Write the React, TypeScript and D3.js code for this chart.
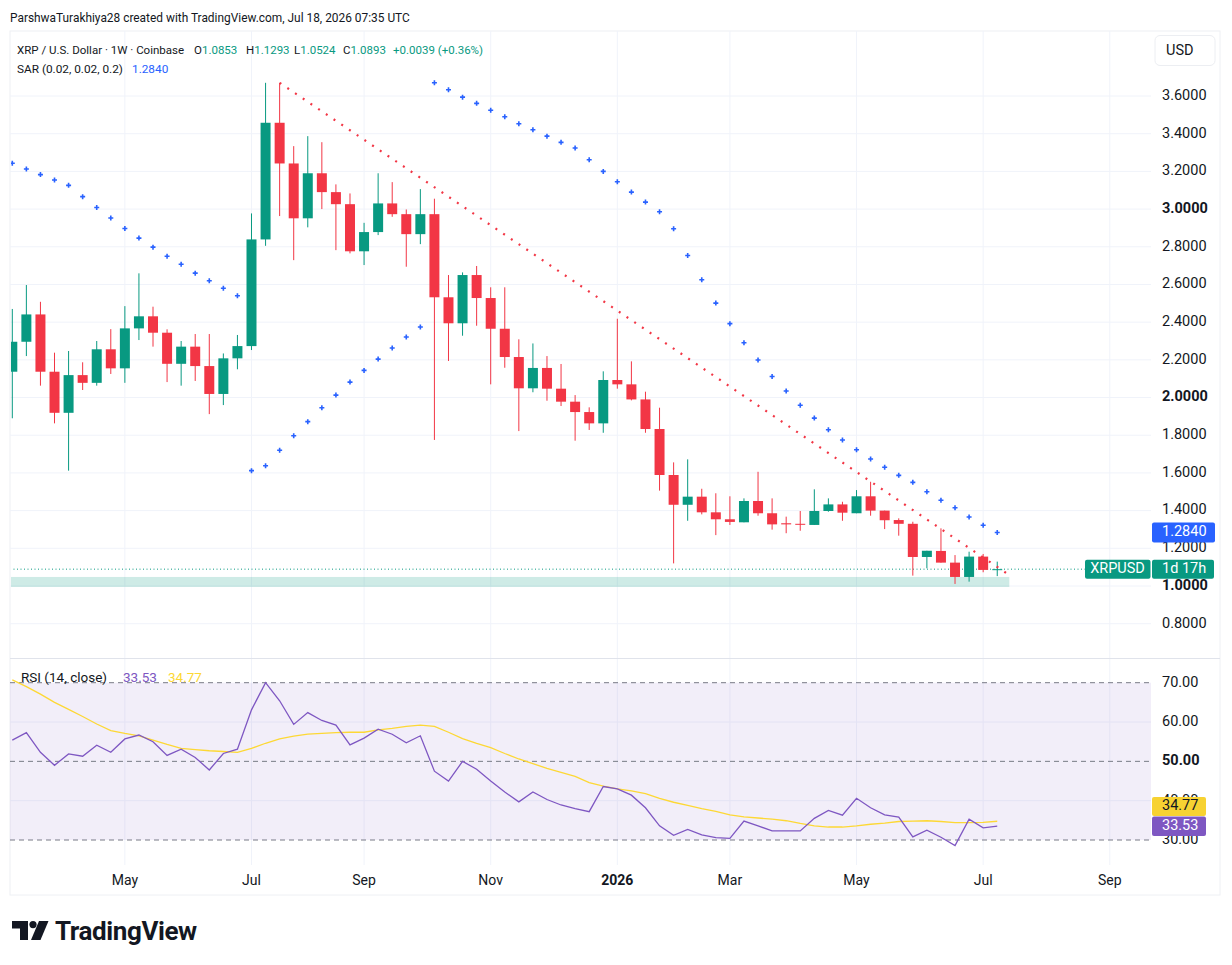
import * as d3 from "d3";

// weekly XRP/USD candles, Mar 10 2025 .. Jul 13 2026
const opens = [
  2.137, 2.296, 2.441, 2.137, 1.919, 2.119, 2.078, 2.256, 2.155, 2.367,
  2.431, 2.344, 2.179, 2.27, 2.167, 2.019, 2.208, 2.273, 2.839, 3.458,
  3.242, 2.951, 3.19, 3.09, 3.026, 2.776, 2.878, 3.03, 2.973, 2.867,
  2.973, 2.532, 2.394, 2.65, 2.528, 2.365, 2.215, 2.049, 2.157, 2.047,
  1.978, 1.923, 1.863, 2.093, 2.07, 1.99, 1.833, 1.589, 1.431, 1.474,
  1.391, 1.354, 1.338, 1.451, 1.386, 1.333, 1.33, 1.324, 1.398, 1.433,
  1.386, 1.476, 1.4, 1.35, 1.33, 1.154, 1.186, 1.124, 1.048, 1.156,
  1.0853,
];
const highs = [
  2.47, 2.597, 2.508, 2.238, 2.247, 2.187, 2.3, 2.363, 2.485, 2.659,
  2.482, 2.362, 2.3, 2.337, 2.337, 2.234, 2.332, 2.977, 3.67, 3.67,
  3.334, 3.387, 3.355, 3.131, 3.083, 2.927, 3.19, 3.143, 2.998, 3.106,
  3.055, 2.65, 2.664, 2.698, 2.585, 2.585, 2.309, 2.287, 2.22, 2.178,
  2.013, 1.948, 2.139, 2.418, 2.192, 2.031, 1.946, 1.656, 1.672, 1.516,
  1.492, 1.476, 1.465, 1.606, 1.465, 1.368, 1.398, 1.513, 1.465, 1.447,
  1.509, 1.553, 1.4, 1.359, 1.341, 1.187, 1.306, 1.164, 1.182, 1.17,
  1.1293,
];
const lows = [
  1.89, 2.22, 2.063, 1.863, 1.612, 2.04, 2.063, 2.125, 2.078, 2.305,
  2.27, 2.082, 2.063, 2.088, 1.912, 1.96, 2.15, 2.252, 2.805, 2.963,
  2.729, 2.903, 3.0, 2.782, 2.765, 2.703, 2.862, 2.959, 2.694, 2.814,
  1.775, 2.194, 2.328, 2.381, 2.07, 2.158, 1.822, 2.028, 1.983, 1.955,
  1.771, 1.828, 1.813, 2.047, 1.985, 1.813, 1.506, 1.12, 1.346, 1.38,
  1.27, 1.324, 1.338, 1.373, 1.299, 1.28, 1.293, 1.324, 1.394, 1.346,
  1.386, 1.373, 1.302, 1.267, 1.055, 1.094, 1.124, 1.011, 1.023, 1.073,
  1.0524,
];
const closes = [
  2.296, 2.441, 2.137, 1.919, 2.119, 2.078, 2.256, 2.155, 2.367, 2.431,
  2.344, 2.179, 2.27, 2.167, 2.019, 2.208, 2.273, 2.839, 3.458, 3.242,
  2.951, 3.19, 3.09, 3.026, 2.776, 2.878, 3.03, 2.973, 2.867, 2.973,
  2.532, 2.394, 2.65, 2.528, 2.365, 2.215, 2.049, 2.157, 2.047, 1.978,
  1.923, 1.863, 2.093, 2.07, 1.99, 1.833, 1.589, 1.431, 1.474, 1.391,
  1.354, 1.34, 1.451, 1.386, 1.327, 1.327, 1.327, 1.398, 1.433, 1.389,
  1.476, 1.4, 1.349, 1.33, 1.154, 1.187, 1.124, 1.048, 1.156, 1.0853,
  1.0893,
];
const sarValues = [
  3.243, 3.213, 3.183, 3.154, 3.126, 3.066, 3.008, 2.953, 2.897, 2.846,
  2.798, 2.75, 2.707, 2.66, 2.62, 2.58, 2.54, 1.612, 1.638, 1.72,
  1.797, 1.872, 1.946, 2.013, 2.082, 2.144, 2.204, 2.263, 2.321, 2.374,
  3.67, 3.633, 3.594, 3.561, 3.524, 3.49, 3.453, 3.421, 3.387, 3.354,
  3.324, 3.262, 3.2, 3.145, 3.09, 3.037, 2.986, 2.896, 2.754, 2.625,
  2.501, 2.392, 2.291, 2.199, 2.112, 2.035, 1.959, 1.891, 1.829, 1.775,
  1.723, 1.674, 1.63, 1.587, 1.55, 1.5, 1.455, 1.415, 1.366, 1.322,
  1.284,
];
const rsiValues = [
  55.4, 57.3, 52.3, 49.0, 51.9, 51.3, 54.1, 52.3, 55.7, 56.7,
  55.0, 51.5, 53.1, 51.0, 47.8, 52.0, 53.1, 63.1, 70.0, 65.4,
  59.4, 62.4, 60.4, 59.2, 54.2, 55.9, 58.2, 56.9, 54.7, 56.5,
  47.5, 45.0, 50.0, 48.0, 45.0, 42.2, 39.7, 42.2, 40.3, 38.9,
  38.0, 37.2, 43.6, 43.0, 41.4, 38.2, 33.6, 31.2, 32.7, 31.3,
  30.6, 30.4, 34.8, 33.6, 32.3, 32.3, 32.3, 35.5, 37.5, 36.3,
  40.6, 38.2, 36.4, 35.8, 30.8, 32.5, 30.7, 28.6, 35.3, 33.1,
  33.53,
];
const rsiMaValues = [
  70.7, 69.0, 67.1, 65.0, 63.2, 61.4, 59.5, 57.8, 57.1, 56.5,
  55.4, 54.3, 53.3, 53.0, 52.7, 52.5, 52.3, 53.3, 54.6, 55.7,
  56.4, 56.9, 57.1, 57.3, 57.4, 57.4, 58.0, 58.4, 58.9, 59.2,
  58.9, 57.4, 55.8, 54.6, 53.5, 52.0, 50.6, 49.4, 48.2, 47.2,
  46.2, 44.6, 43.7, 43.0, 42.5, 41.8, 40.6, 39.6, 38.8, 38.0,
  37.3, 36.4, 35.9, 35.6, 35.3, 34.9, 34.2, 33.6, 33.3, 33.3,
  33.6, 34.0, 34.3, 34.7, 34.8, 34.9, 34.7, 34.4, 34.4, 34.5,
  34.77,
];

const priceTicks = [0.8, 1.0, 1.2, 1.4, 1.6, 1.8, 2.0, 2.2, 2.4, 2.6, 2.8, 3.0, 3.2, 3.4, 3.6];
const boldPrices = [1.0, 2.0, 3.0];
const rsiTicks = [30, 40, 50, 60, 70];
const rsiBands = [70, 50, 30];
const monthTickDates = [
  "2025-05-05", "2025-07-07", "2025-09-01", "2025-11-03", "2026-01-05",
  "2026-03-02", "2026-05-04", "2026-07-06", "2026-09-07",
];
const monthTickLabels = ["May", "Jul", "Sep", "Nov", "2026", "Mar", "May", "Jul", "Sep"];

// user drawings
const trendDates = ["2025-07-21", "2026-07-19"];
const trendPrices = [3.67, 1.058];
const zoneDates = ["2025-01-01", "2026-07-19"];
const zonePrices = [0.995, 1.048];

const UP = "#089981";
const DOWN = "#f23645";
const TEXT = "#131722";
const GRID = "#f0f3fa";
const FONT = "Roboto, 'Noto Sans', sans-serif";
const AXIS_FS = 14.5;

const W = 1232;
const H = 965;
const left = 10;
const right = 1220;
const plotRight = 1151;
const mainTop = 31;
const mainBottom = 658;
const rsiTop = 659;
const rsiBottom = 865;
const bottom = 895;
const axisX = 1162;

const weeks = d3.utcMonday.range(new Date(Date.UTC(2025, 2, 10)), new Date(Date.UTC(2026, 6, 14)));
const parse = (s: string) => new Date(s + "T00:00:00Z");

export default function App() {
  const x = d3
    .scaleUtc()
    .domain([weeks[0], parse("2026-09-07")])
    .range([12.3, 1109.8]);
  const y = d3.scaleLinear().domain([1, 3.6]).range([586, 96]);
  const yr = d3.scaleLinear().domain([30, 70]).range([840, 682.7]);

  const step = x(weeks[1]) - x(weeks[0]);
  const bw = step * 0.71;

  const rsiLine = d3
    .line<number>()
    .x((_, i) => x(weeks[i]))
    .y((v) => yr(v));

  const last = closes.length - 1;
  const lastPrice = closes[last];

  return (
    <svg
      width={W}
      height={H}
      style={{ position: "absolute", left: 0, top: 0, background: "#fff", fontFamily: FONT }}
    >
      <defs>
        <clipPath id="mainClip">
          <rect x={left + 1} y={mainTop} width={plotRight - left - 1} height={mainBottom - mainTop} />
        </clipPath>
        <clipPath id="rsiClip">
          <rect x={left + 1} y={rsiTop} width={plotRight - left - 1} height={rsiBottom - rsiTop} />
        </clipPath>
      </defs>

      <text x={10} y={22} fontSize={11.9} fill={TEXT}>
        ParshwaTurakhiya28 created with TradingView.com, Jul 18, 2026 07:35 UTC
      </text>

      {/* chart frame */}
      <rect x={left} y={mainTop} width={right - left} height={bottom - mainTop} fill="none" stroke="#eef0f4" />

      {/* grid */}
      {priceTicks.map((p) => (
        <line key={"hg" + p} x1={left} x2={plotRight} y1={y(p)} y2={y(p)} stroke={GRID} />
      ))}
      {monthTickDates.map((d) => (
        <line key={"vg" + d} x1={x(parse(d))} x2={x(parse(d))} y1={mainTop} y2={rsiBottom} stroke={GRID} />
      ))}
      {[40, 60].map((v) => (
        <line key={"rg" + v} x1={left} x2={plotRight} y1={yr(v)} y2={yr(v)} stroke={GRID} />
      ))}
      <line x1={left} x2={right} y1={mainBottom + 0.5} y2={mainBottom + 0.5} stroke="#e0e3eb" />

      {/* main pane */}
      <g clipPath="url(#mainClip)">
        <rect
          x={x(parse(zoneDates[0]))}
          y={y(zonePrices[1])}
          width={x(parse(zoneDates[1])) - x(parse(zoneDates[0]))}
          height={y(zonePrices[0]) - y(zonePrices[1])}
          fill={UP}
          fillOpacity={0.2}
        />
        <line
          x1={left}
          x2={plotRight}
          y1={y(lastPrice)}
          y2={y(lastPrice)}
          stroke={UP}
          strokeWidth={1}
          strokeDasharray="1 2.5"
        />
        {weeks.map((d, i) => {
          const o = opens[i];
          const c = closes[i];
          const col = c >= o ? UP : DOWN;
          const cx = x(d);
          const top = y(Math.max(o, c));
          const h = Math.max(1, Math.abs(y(o) - y(c)));
          return (
            <g key={"c" + i}>
              <line x1={cx} x2={cx} y1={y(highs[i])} y2={y(lows[i])} stroke={col} strokeWidth={1} />
              <rect x={cx - bw / 2} y={top} width={bw} height={h} fill={col} />
            </g>
          );
        })}
        <line
          x1={x(parse(trendDates[0]))}
          y1={y(trendPrices[0])}
          x2={x(parse(trendDates[1]))}
          y2={y(trendPrices[1])}
          stroke={DOWN}
          strokeWidth={2.2}
          strokeDasharray="2 7.3"
        />
        {weeks.map((d, i) => {
          const cx = x(d);
          const cy = y(sarValues[i]);
          return (
            <path
              key={"s" + i}
              d={`M${cx - 2.5},${cy}H${cx + 2.5}M${cx},${cy - 2.5}V${cy + 2.5}`}
              stroke="#2962ff"
              strokeWidth={1.6}
            />
          );
        })}
      </g>

      {/* legend */}
      <text y={54} fontSize={11.5} fill={TEXT}>
        <tspan x={17}>XRP / U.S. Dollar · 1W · Coinbase</tspan>
        <tspan x={194}>O</tspan>
        <tspan fill={UP}>{opens[last].toFixed(4)}</tspan>
        <tspan x={246}>H</tspan>
        <tspan fill={UP}>{highs[last].toFixed(4)}</tspan>
        <tspan x={294}>L</tspan>
        <tspan fill={UP}>{lows[last].toFixed(4)}</tspan>
        <tspan x={343}>C</tspan>
        <tspan fill={UP}>{lastPrice.toFixed(4)}</tspan>
        <tspan x={393} fill={UP}>
          +0.0039 (+0.36%)
        </tspan>
      </text>
      <text y={73} fontSize={11.8} fill={TEXT}>
        <tspan x={17}>SAR (0.02, 0.02, 0.2)</tspan>
        <tspan x={132} fill="#2962ff">
          {sarValues[last].toFixed(4)}
        </tspan>
      </text>

      {/* price axis */}
      <rect x={1155} y={35.5} width={60} height={30} rx={5} fill="#fff" stroke="#eceef2" />
      <text x={1166} y={51} fontSize={AXIS_FS} fill={TEXT} dominantBaseline="middle">
        USD
      </text>
      {priceTicks.map((p) => (
        <text
          key={"pl" + p}
          x={axisX}
          y={y(p)}
          fontSize={AXIS_FS}
          fill={TEXT}
          fontWeight={boldPrices.includes(p) ? 700 : 400}
          dominantBaseline="middle"
        >
          {p.toFixed(4)}
        </text>
      ))}
      <rect x={1152} y={y(sarValues[last]) - 10} width={63} height={20} rx={2} fill="#2962ff" />
      <text x={axisX} y={y(sarValues[last])} fontSize={AXIS_FS} fill="#fff" dominantBaseline="middle">
        {sarValues[last].toFixed(4)}
      </text>
      <rect x={1085} y={y(lastPrice) - 9.5} width={65.5} height={19} rx={2} fill={UP} />
      <text x={1117.5} y={y(lastPrice)} fontSize={AXIS_FS} fill="#fff" textAnchor="middle" dominantBaseline="middle">
        XRPUSD
      </text>
      <rect x={1152} y={y(lastPrice) - 9.5} width={62} height={19} rx={2} fill={UP} />
      <text x={axisX} y={y(lastPrice)} fontSize={AXIS_FS} fill="#fff" dominantBaseline="middle">
        1d 17h
      </text>

      {/* RSI pane */}
      <rect
        x={left}
        y={yr(70)}
        width={plotRight - left}
        height={yr(30) - yr(70)}
        fill="#7e57c2"
        fillOpacity={0.1}
      />
      {rsiBands.map((v) => (
        <line
          key={"rb" + v}
          x1={left}
          x2={plotRight}
          y1={yr(v)}
          y2={yr(v)}
          stroke="#787b86"
          strokeWidth={1}
          strokeDasharray="5 4"
        />
      ))}
      <g clipPath="url(#rsiClip)" fill="none">
        <path d={rsiLine(rsiMaValues) ?? ""} stroke="#fdd835" strokeWidth={1.3} />
        <path d={rsiLine(rsiValues) ?? ""} stroke="#7e57c2" strokeWidth={1.3} />
      </g>
      <text y={682} fontSize={13.5}>
        <tspan x={21} fill={TEXT}>
          RSI (14, close)
        </tspan>
        <tspan x={123} fill="#7e57c2">
          {rsiValues[last].toFixed(2)}
        </tspan>
        <tspan x={168} fill="#fdd835">
          {rsiMaValues[last].toFixed(2)}
        </tspan>
      </text>
      {rsiTicks.map((v) => (
        <text
          key={"rl" + v}
          x={axisX}
          y={yr(v)}
          fontSize={AXIS_FS}
          fill={TEXT}
          fontWeight={v === 50 ? 700 : 400}
          dominantBaseline="middle"
        >
          {v.toFixed(2)}
        </text>
      ))}
      <rect x={1152} y={797} width={54} height={19} rx={2} fill="#f7d232" />
      <text x={axisX} y={806.5} fontSize={AXIS_FS} fill={TEXT} dominantBaseline="middle">
        {rsiMaValues[last].toFixed(2)}
      </text>
      <rect x={1152} y={816.5} width={54} height={19.5} rx={2} fill="#7e57c2" />
      <text x={axisX} y={826.5} fontSize={AXIS_FS} fill="#fff" dominantBaseline="middle">
        {rsiValues[last].toFixed(2)}
      </text>

      {/* time axis */}
      {monthTickDates.map((d, i) => (
        <text
          key={"tl" + d}
          x={x(parse(d))}
          y={881}
          fontSize={14}
          fill={TEXT}
          textAnchor="middle"
          dominantBaseline="middle"
          fontWeight={monthTickLabels[i] === "2026" ? 700 : 400}
        >
          {monthTickLabels[i]}
        </text>
      ))}

      {/* TradingView logo */}
      <g fill="#131722">
        <path d="M12,921 H28 V940 H20 V928.5 H12 Z" />
        <circle cx={33} cy={924.6} r={3.6} />
        <path d="M39,921 H48.5 L40.5,940 H31 Z" />
      </g>
      <text x={55} y={940} fontSize={26} fontWeight={700} fill="#131722" letterSpacing={-0.4}>
        TradingView
      </text>
    </svg>
  );
}
